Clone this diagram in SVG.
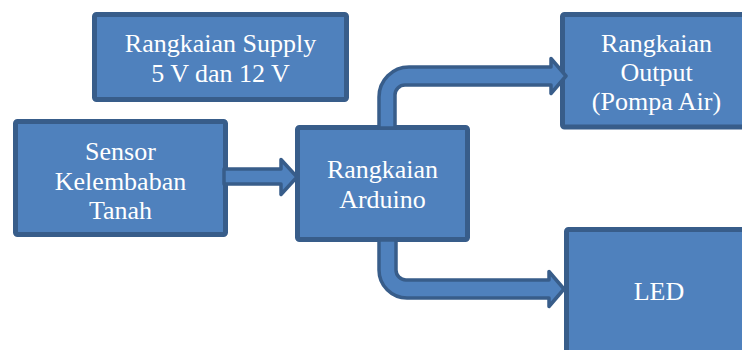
<svg xmlns="http://www.w3.org/2000/svg" width="742" height="350" viewBox="0 0 742 350">
<style>
.box{fill:#4f81bd;stroke:#385d8a;stroke-width:5;}
.arr{fill:#4f81bd;stroke:#385d8a;stroke-width:3.5;stroke-linejoin:round;}
text{font-family:"Liberation Serif","Times New Roman",serif;font-size:26px;fill:#ffffff;text-anchor:middle;}
</style>
<rect width="742" height="350" fill="#ffffff"/>
<g id="supply">
<rect class="box" x="94.5" y="14.5" width="252" height="85" rx="2"/>
<text x="220.5" y="52">Rangkaian Supply</text>
<text x="220.5" y="82">5 V dan 12 V</text>
</g>
<g id="sensor">
<rect class="box" x="15.5" y="121.5" width="210" height="113" rx="2"/>
<text x="120.5" y="160">Sensor</text>
<text x="120.5" y="190">Kelembaban</text>
<text x="120.5" y="219">Tanah</text>
</g>
<g id="arduino">
<rect class="box" x="297.5" y="127.5" width="170" height="112" rx="2"/>
<text x="382.5" y="178">Rangkaian</text>
<text x="382.5" y="208">Arduino</text>
</g>
<g id="output">
<rect class="box" x="562.5" y="14.5" width="190" height="112.5" rx="2"/>
<text x="656.5" y="52">Rangkaian</text>
<text x="656.5" y="81">Output</text>
<text x="656.5" y="110">(Pompa Air)</text>
</g>
<g id="led">
<rect class="box" x="566.5" y="229.5" width="190" height="140" rx="2"/>
<text x="659" y="300">LED</text>
</g>
<g id="connectors">
<path class="arr" d="M224,169 H281 V159.5 L297,177 L281,194.5 V184 H224 Z"/>
<path class="arr" d="M379,128 V97 A30,30 0 0 1 409,67 H551 V58.5 L566,76 L551,93.5 V85 H405 A10,10 0 0 0 395,95 V128 Z"/>
<path class="arr" d="M379,240 V270 A28,28 0 0 0 407,298 H549 V306.5 L564,289 L549,271.5 V280 H406 A10,10 0 0 1 396,270 V240 Z"/>
</g>
</svg>
